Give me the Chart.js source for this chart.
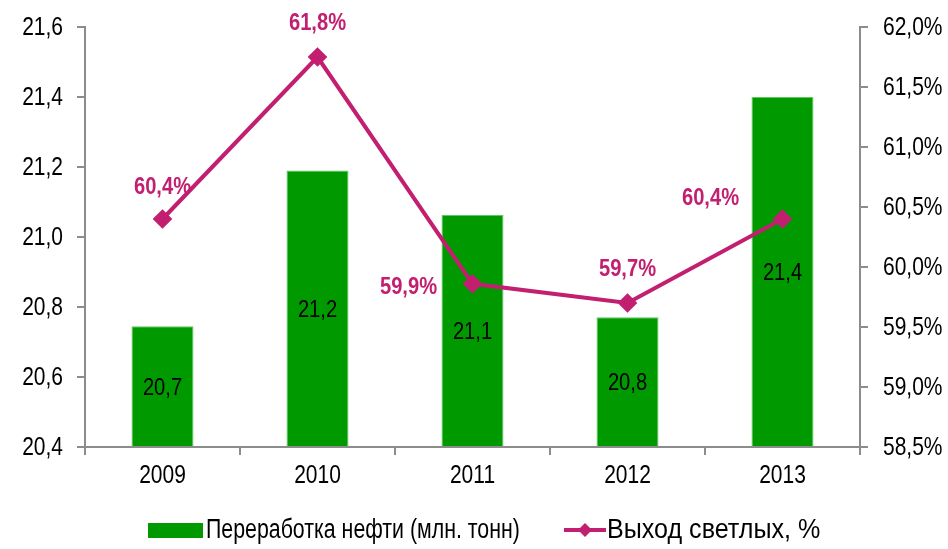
<!DOCTYPE html>
<html>
<head>
<meta charset="utf-8">
<script src="https://cdn.jsdelivr.net/npm/chart.js@4/dist/chart.umd.min.js"></script>
<style>
  html, body { margin: 0; padding: 0; background: #fff; }
  #wrap { width: 948px; height: 549px; }
</style>
</head>
<body>
<div id="wrap"><canvas id="chart" width="948" height="549"></canvas></div>
<script>
const years = ['2009', '2010', '2011', '2012', '2013'];
const refining = [20.745, 21.19, 21.063, 20.771, 21.40];
const refiningLabels = ['20,7', '21,2', '21,1', '20,8', '21,4'];
const lightYield = [60.4, 61.75, 59.86, 59.7, 60.4];
const yieldLabels = ['60,4%', '61,8%', '59,9%', '59,7%', '60,4%'];
const seriesNames = ['Переработка нефти (млн. тонн)', 'Выход светлых, %'];

const GREEN = '#009900';
const MAGENTA = '#C21F70';
const AXIS = '#8c8c8c';
const FONT = "'Liberation Sans', Arial, sans-serif";
const NARROW = 0.84; // squeeze to mimic Arial Narrow

// label offsets relative to each line point [dx, dy]
const yieldLabelOffset = [[0, -32], [0, -34], [-64, 4], [0, -34], [-72, -21]];

function narrowText(ctx, text, x, y, align, sq) {
    ctx.save();
    ctx.translate(x, y);
    ctx.scale(sq || NARROW, 1);
    ctx.textAlign = align;
    ctx.fillText(text, 0, 0);
    ctx.restore();
}

const textPlugin = {
    id: 'narrowText',
    afterDatasetsDraw(chart) {
        const ctx = chart.ctx;
        ctx.save();
        ctx.textBaseline = 'middle';
        // bar values
        ctx.font = '24px ' + FONT;
        ctx.fillStyle = '#000';
        chart.getDatasetMeta(1).data.forEach((b, i) => {
            narrowText(ctx, refiningLabels[i], b.x, (b.y + b.base) / 2 + 2, 'center');
        });
        // line values
        ctx.font = 'bold 24px ' + FONT;
        ctx.fillStyle = MAGENTA;
        chart.getDatasetMeta(0).data.forEach((p, i) => {
            const o = yieldLabelOffset[i];
            narrowText(ctx, yieldLabels[i], p.x + o[0], p.y + o[1], 'center');
        });
        // axis tick labels
        ctx.font = '25px ' + FONT;
        ctx.fillStyle = '#000';
        const sx = chart.scales.x, sy = chart.scales.y, sy1 = chart.scales.y1;
        sx.ticks.forEach((t, i) => {
            narrowText(ctx, years[i], sx.getPixelForTick(i), sx.top + 29, 'center');
        });
        sy.ticks.forEach((t, i) => {
            narrowText(ctx, t.value.toFixed(1).replace('.', ','), sy.right - 22, sy.getPixelForTick(i) + 1, 'right');
        });
        sy1.ticks.forEach((t, i) => {
            narrowText(ctx, t.value.toFixed(1).replace('.', ',') + '%', sy1.left + 23, sy1.getPixelForTick(i) + 1, 'left');
        });
        // legend
        const y = 530;
        ctx.font = '27px ' + FONT;
        ctx.fillStyle = GREEN;
        ctx.fillRect(148, y - 7, 55, 15);
        ctx.fillStyle = '#000';
        narrowText(ctx, seriesNames[0], 206, y + 1, 'left', 0.79);
        const x = 564;
        ctx.strokeStyle = MAGENTA;
        ctx.lineWidth = 4;
        ctx.beginPath();
        ctx.moveTo(x, y);
        ctx.lineTo(x + 42, y);
        ctx.stroke();
        ctx.fillStyle = MAGENTA;
        ctx.beginPath();
        ctx.moveTo(x + 21, y - 7);
        ctx.lineTo(x + 28, y);
        ctx.lineTo(x + 21, y + 7);
        ctx.lineTo(x + 14, y);
        ctx.closePath();
        ctx.fill();
        ctx.fillStyle = '#000';
        narrowText(ctx, seriesNames[1], x + 43, y + 1, 'left', 0.93);
        ctx.restore();
    }
};

new Chart(document.getElementById('chart').getContext('2d'), {
    type: 'bar',
    data: {
        labels: years,
        datasets: [
            {
                type: 'line',
                label: seriesNames[1],
                data: lightYield,
                yAxisID: 'y1',
                borderColor: MAGENTA,
                backgroundColor: MAGENTA,
                borderWidth: 4,
                pointStyle: 'rectRot',
                pointRadius: 7,
                pointHoverRadius: 7,
                tension: 0,
                order: 0
            },
            {
                type: 'bar',
                label: seriesNames[0],
                data: refining,
                yAxisID: 'y',
                backgroundColor: GREEN,
                borderColor: '#5ec85e',
                borderWidth: 1,
                categoryPercentage: 1,
                barPercentage: 0.4,
                base: 20.4,
                order: 1
            }
        ]
    },
    options: {
        responsive: false,
        animation: false,
        layout: { padding: { top: 27, bottom: 58, left: 0, right: 0 } },
        plugins: { legend: { display: false }, tooltip: { enabled: false } },
        scales: {
            x: {
                grid: { drawOnChartArea: false, offset: true, tickLength: 8, color: AXIS, lineWidth: 2 },
                border: { color: AXIS, width: 2 },
                ticks: { color: 'transparent', font: { family: FONT, size: 21 }, padding: 4 },
                afterFit(s) { s.height = 44; }
            },
            y: {
                position: 'left',
                min: 20.4,
                max: 21.6,
                ticks: { stepSize: 0.2, color: 'transparent', font: { family: FONT, size: 21 } },
                grid: { drawOnChartArea: false, tickLength: 8, color: AXIS, lineWidth: 2 },
                border: { color: AXIS, width: 2 },
                afterFit(s) { s.width = 85; }
            },
            y1: {
                position: 'right',
                min: 58.5,
                max: 62.0,
                ticks: { stepSize: 0.5, color: 'transparent', font: { family: FONT, size: 21 } },
                grid: { drawOnChartArea: false, tickLength: 8, color: AXIS, lineWidth: 2 },
                border: { color: AXIS, width: 2 },
                afterFit(s) { s.width = 88; }
            }
        }
    },
    plugins: [textPlugin]
});
</script>
</body>
</html>
